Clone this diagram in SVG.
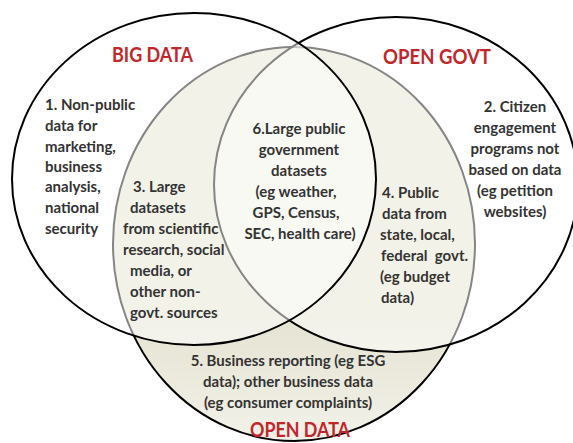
<svg xmlns="http://www.w3.org/2000/svg" width="573" height="443" viewBox="0 0 573 443">
<style>
.c{stroke:#000;stroke-width:2}
.w{fill:#fff;fill-opacity:0.52}
.t{font-family:Lato,"Open Sans",sans-serif;font-weight:bold;font-size:15px;fill:#333}
.m{text-anchor:middle}
.h{font-family:Lato,"Open Sans",sans-serif;font-weight:bold;font-size:20px;fill:#c0272d}
</style>
<defs>
<linearGradient id="od" gradientUnits="userSpaceOnUse" x1="0" y1="320" x2="0" y2="445">
<stop offset="0" stop-color="#e5e3d2"/>
<stop offset="1" stop-color="#f3f2ea"/>
</linearGradient>
</defs>
<rect width="573" height="443" fill="#fff"/>
<g id="open-data">
<ellipse class="c" cx="294" cy="244" rx="181" ry="197" fill="url(#od)"/>
</g>
<g id="open-govt">
<ellipse class="c w" cx="396" cy="184.5" rx="182" ry="167.5"/>
</g>
<g id="big-data">
<ellipse class="c w" cx="194" cy="179" rx="182" ry="166"/>
</g>
<g id="labels">
<text class="h" x="112" y="62" textLength="81" lengthAdjust="spacingAndGlyphs">BIG DATA</text>
<text class="h" x="383" y="64" textLength="108" lengthAdjust="spacingAndGlyphs">OPEN GOVT</text>
<text class="h" x="250" y="437" textLength="100" lengthAdjust="spacingAndGlyphs">OPEN DATA</text>
</g>
<g id="region-1" class="t">
<text x="45" y="110">1. Non-public</text>
<text x="45" y="131">data for</text>
<text x="45" y="152">marketing,</text>
<text x="45" y="172">business</text>
<text x="45" y="192">analysis,</text>
<text x="45" y="213">national</text>
<text x="45" y="234">security</text>
</g>
<g id="region-2" class="t m">
<text x="515" y="112">2. Citizen</text>
<text x="515" y="133">engagement</text>
<text x="515" y="154">programs not</text>
<text x="515" y="175">based on data</text>
<text x="515" y="196">(eg petition</text>
<text x="515" y="217">websites)</text>
</g>
<g id="region-3" class="t">
<text x="133" y="192">3. Large</text>
<text x="130" y="213">datasets</text>
<text x="123" y="234">from scientific</text>
<text x="123" y="255">research, social</text>
<text x="130" y="276">media, or</text>
<text x="130" y="297">other non-</text>
<text x="130" y="318">govt. sources</text>
</g>
<g id="region-6" class="t m">
<text x="299" y="134">6.Large public</text>
<text x="299" y="155">government</text>
<text x="299" y="176">datasets</text>
<text x="296" y="197">(eg weather,</text>
<text x="296" y="218">GPS, Census,</text>
<text x="300" y="239">SEC, health care)</text>
</g>
<g id="region-4" class="t">
<text x="382" y="198">4. Public</text>
<text x="382" y="219">data from</text>
<text x="380" y="240">state, local,</text>
<text x="381" y="261" xml:space="preserve">federal  govt.</text>
<text x="380" y="282">(eg budget</text>
<text x="381" y="303">data)</text>
</g>
<g id="region-5" class="t m">
<text x="288" y="366">5. Business reporting (eg ESG</text>
<text x="288" y="387">data); other business data</text>
<text x="288" y="408">(eg consumer complaints)</text>
</g>
</svg>
